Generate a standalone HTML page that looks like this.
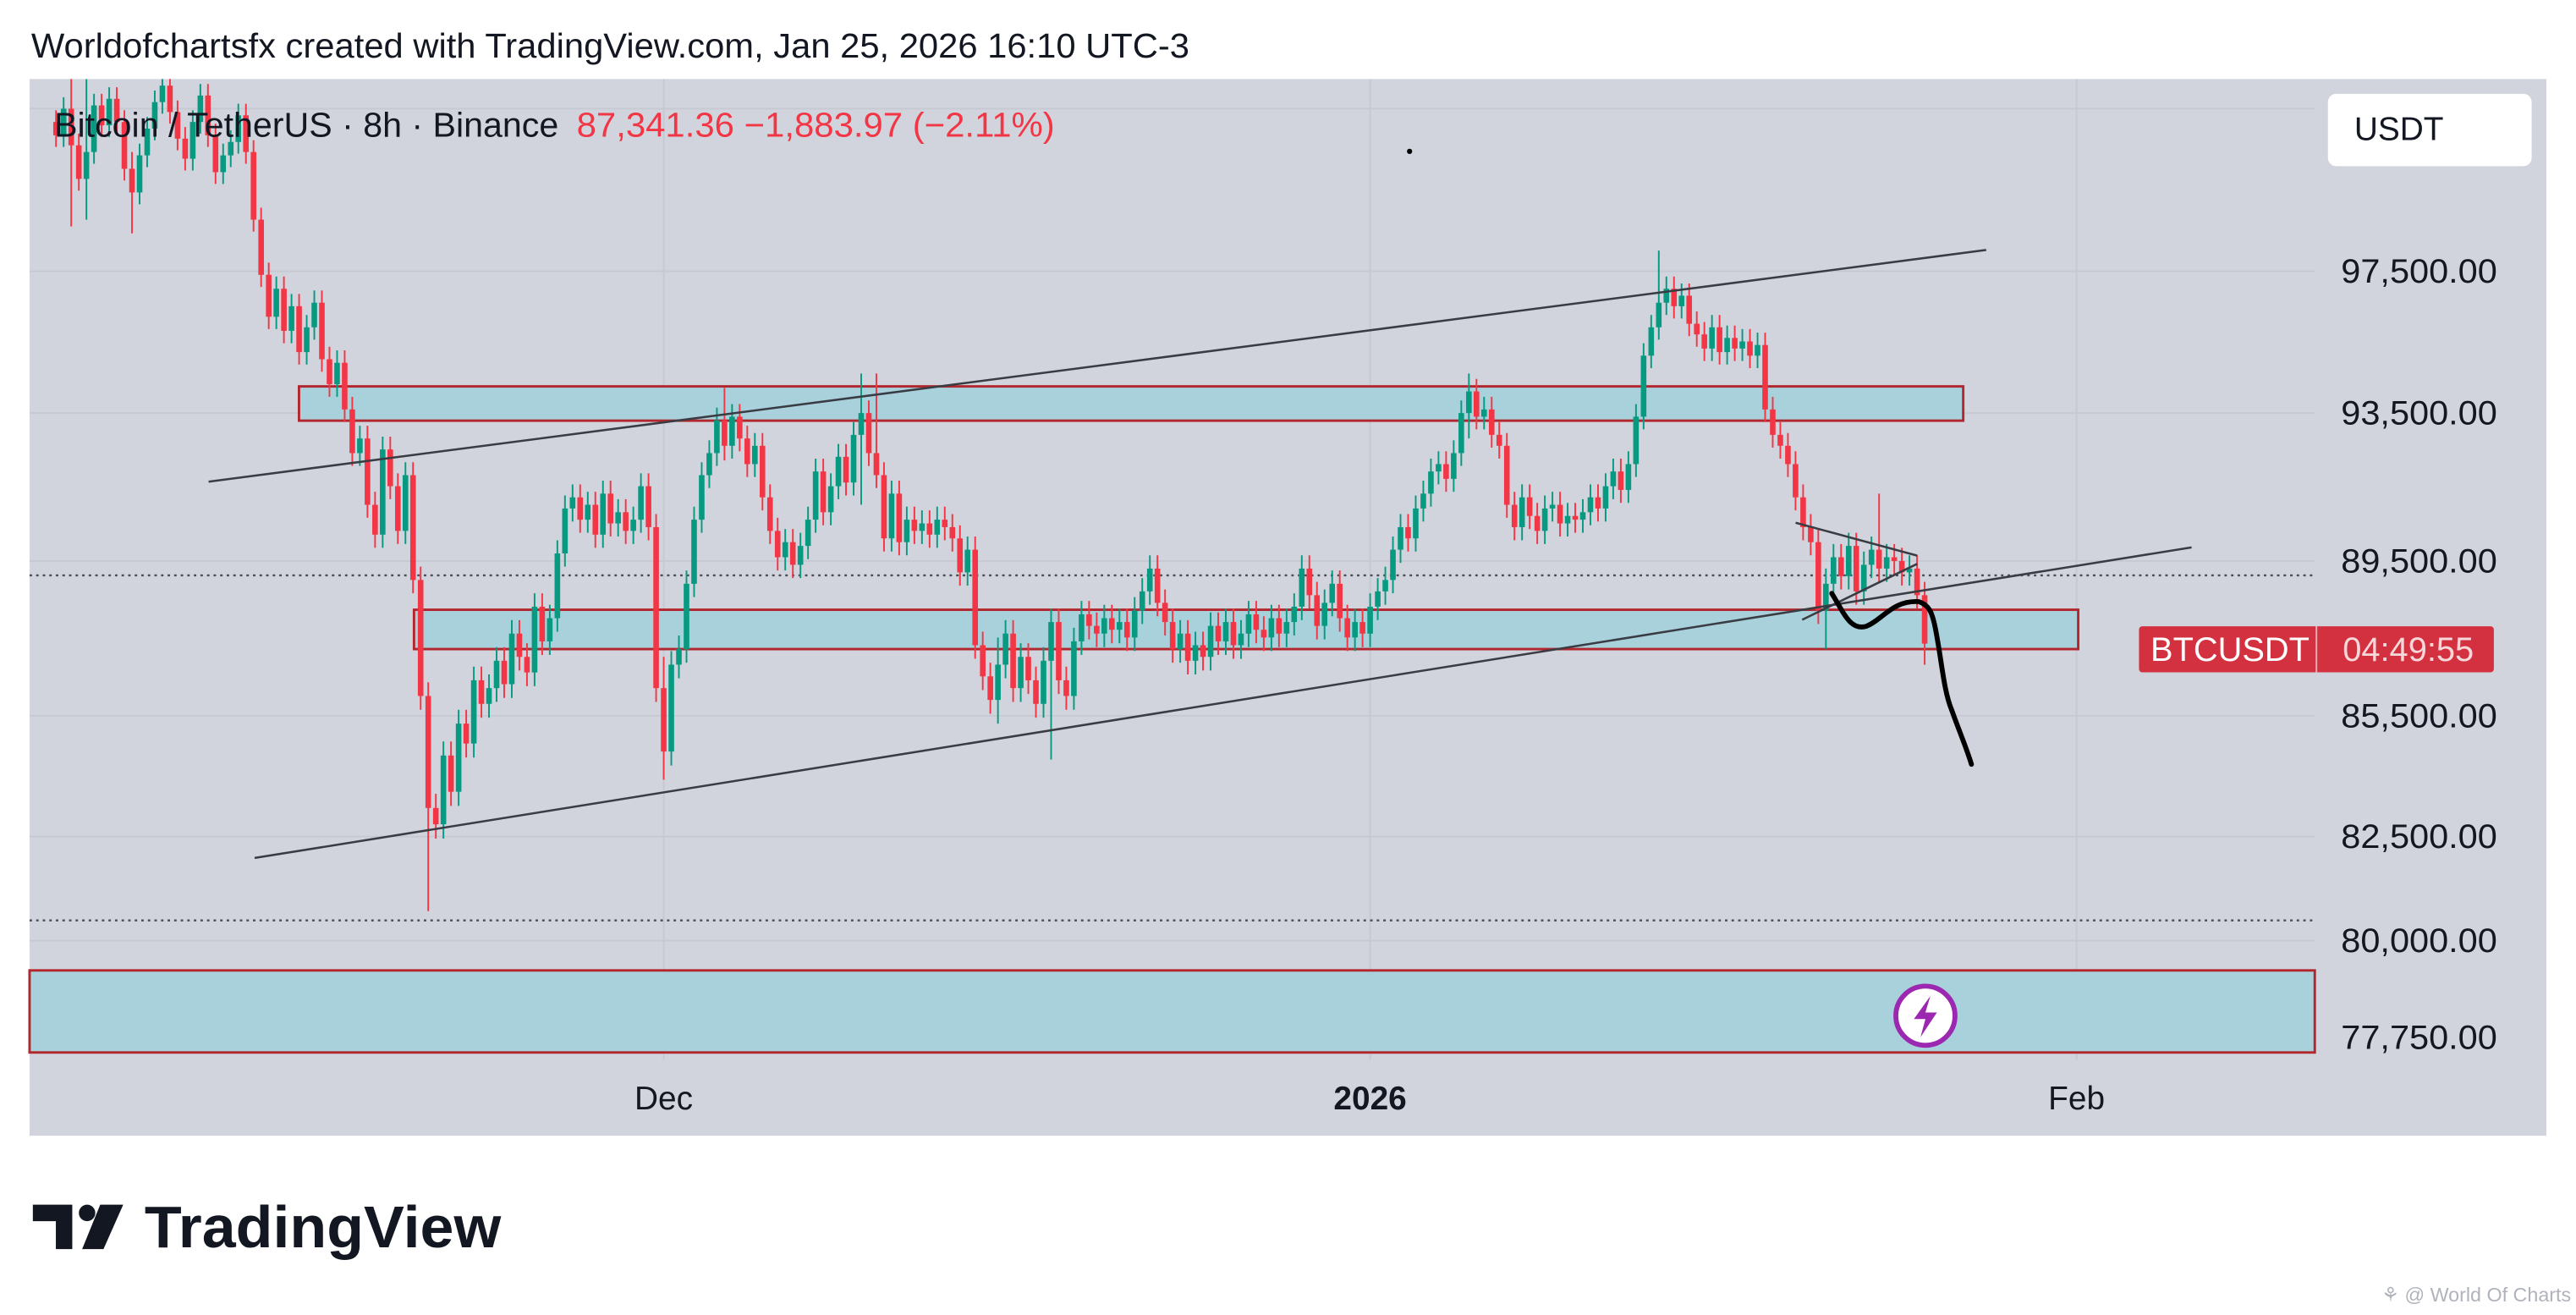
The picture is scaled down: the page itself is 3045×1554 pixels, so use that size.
<!DOCTYPE html>
<html><head><meta charset="utf-8"><style>
html,body{margin:0;padding:0;background:#fff;}
svg{display:block;font-family:"Liberation Sans",sans-serif;}
</style></head><body>
<svg id="chart" width="3045" height="1554" viewBox="0 0 1568 800" xmlns="http://www.w3.org/2000/svg">
<rect x="0" y="0" width="1568" height="800" fill="#ffffff"/>
<text x="19" y="35" font-size="21" fill="#131722" textLength="705" lengthAdjust="spacingAndGlyphs">Worldofchartsfx created with TradingView.com, Jan 25, 2026 16:10 UTC-3</text>
<rect x="18" y="48" width="1532" height="643" fill="#d1d4dc"/>
<defs><clipPath id="plotclip"><rect x="18" y="48" width="1391" height="597"/></clipPath></defs>
<g id="grid"></g>
<g id="zones"></g>
<g id="candles" clip-path="url(#plotclip)"></g>
<g id="drawings"></g>
<g id="axes"></g>
<text x="33" y="83" font-size="21" fill="#131722" textLength="307" lengthAdjust="spacingAndGlyphs">Bitcoin / TetherUS · 8h · Binance</text>
<text x="351" y="83" font-size="21" fill="#f23645" textLength="291" lengthAdjust="spacingAndGlyphs">87,341.36  −1,883.97 (−2.11%)</text>
<rect x="1417" y="57" width="124" height="44" rx="5" fill="#ffffff"/>
<text x="1433" y="85" font-size="20" fill="#131722">USDT</text>
<g>
<rect x="1302" y="381" width="216" height="28" rx="2" fill="#d3313f"/>
<line x1="1410" y1="381" x2="1410" y2="409" stroke="#ffffff" stroke-opacity="0.6"/>
<text x="1309" y="402" font-size="20.5" fill="#fff">BTCUSDT</text>
<text x="1426" y="402" font-size="20.5" fill="#f6d7da">04:49:55</text>
</g>
<g>
<circle cx="1172" cy="618" r="18" fill="#fff" stroke="#9c27b0" stroke-width="3"/>
<path d="M1175 606 L1165 620 L1172 620 L1169 631 L1179 616 L1172 616 Z" fill="#9c27b0"/>
</g>
<g>
<path d="M20 733 H44 V760 H34 V743 H20 Z" fill="#131722"/>
<circle cx="53" cy="738" r="5" fill="#131722"/>
<path d="M61 733 H75 L63 760 H50 Z" fill="#131722"/>
<text x="88" y="759" font-size="36" font-weight="bold" fill="#131722" textLength="217" lengthAdjust="spacingAndGlyphs">TradingView</text>
</g>
<text x="1565" y="792" font-size="12" fill="#b0b3bb" text-anchor="end">⚘ @ World Of Charts</text>
</svg>
<script>
const tickPrices=[97500,93500,89500,85500,82500,80000,77750];
const tickLabels=["97,500.00","93,500.00","89,500.00","85,500.00","82,500.00","80,000.00","77,750.00"];
const timeLabels=["Dec","2026","Feb"];
const timeIdx=[80,173,266];
const closes=[101.5,102.3,101.2,100.2,101.0,102.4,101.8,102.6,101.9,100.5,99.8,100.9,101.7,102.5,103.0,102.2,101.4,100.8,101.9,102.7,101.5,100.4,100.9,101.3,102.1,101.0,99.0,
97.4,96.2,97.0,95.8,96.5,95.2,95.9,96.6,95.0,94.3,94.9,93.6,
92.4,92.8,91.0,90.2,92.5,91.5,90.3,91.8,
89.0,86.0,83.2,82.8,
84.5,83.6,85.3,84.8,86.4,85.8,86.2,
86.9,86.3,87.6,87.0,86.6,88.3,87.4,88.0,89.7,90.9,
91.2,90.6,91.0,90.2,91.3,90.5,90.8,90.3,90.6,91.5,90.4,
86.2,84.6,86.8,
87.2,88.9,90.6,91.8,92.4,93.3,92.6,
93.4,92.8,92.1,92.6,91.2,90.3,
89.6,90.0,89.4,89.9,90.6,
91.9,90.8,91.5,92.3,91.6,92.9,93.5,92.4,
91.8,90.1,91.3,90.0,90.6,90.3,
90.5,90.2,90.6,90.4,90.1,89.2,89.8,
87.3,86.5,85.9,86.8,
87.6,86.2,87.0,86.4,85.8,86.9,87.9,86.4,86.0,
87.4,88.1,87.8,87.6,88.0,87.7,87.9,87.5,88.2,
88.7,89.3,88.4,87.9,
87.2,87.6,86.9,87.3,87.0,87.8,87.4,87.9,87.3,87.6,88.1,87.7,87.5,88.0,87.6,87.9,88.3,
89.3,88.6,87.8,88.4,88.9,88.0,87.5,87.9,87.6,88.3,
88.7,89.0,89.8,90.4,90.1,90.9,91.3,
91.9,92.1,91.7,92.4,93.5,94.1,93.4,
93.6,92.9,92.6,
91.0,90.4,91.2,90.7,90.3,90.9,
91.0,90.5,90.7,90.6,90.8,91.2,90.9,91.5,91.9,91.4,92.1,
93.4,95.1,95.9,
96.6,97.0,96.5,96.8,
96.0,95.7,95.3,95.9,
95.2,95.6,95.3,95.5,95.1,95.4,
93.6,92.9,92.6,92.1,
91.2,90.4,90.0,
88.2,88.9,
89.6,89.1,89.9,88.7,89.4,89.8,89.3,89.6,89.5,89.2,89.3,
88.6,87.34];
const wickIdx=[2,4,10,49,80,88,106,108,124,131,186,211,233,240,246];
const wickHigh=[103.5,103.2,101.0,84.0,87.0,94.2,94.6,94.6,87.5,87.3,94.6,98.1,89.3,91.3,88.8];
const wickLow=[98.8,99.0,98.6,80.7,83.9,92.2,91.0,92.0,85.3,84.4,92.8,96.0,87.2,89.0,86.8];
const defaultWick=0.35;

const NS="http://www.w3.org/2000/svg";
function yScale(p){return 165+2059*Math.log(97500/p);}
function xScale(i){return 404+(i-80)*(430/93);}
function mk(tag,attrs,parent){const e=document.createElementNS(NS,tag);for(const k in attrs)e.setAttribute(k,attrs[k]);parent.appendChild(e);return e;}
const grid=document.getElementById('grid'),axes=document.getElementById('axes');
mk('line',{x1:18,x2:1409,y1:66,y2:66,stroke:'#c6c9d1','stroke-width':1},grid);
tickPrices.forEach((p,k)=>{
  const y=yScale(p);
  const l=mk('line',{x1:18,x2:1409,y1:y,y2:y,stroke:'#c6c9d1','stroke-width':1},grid);
  
  
  const t=mk('text',{x:1520,y:y+7,'font-size':20.5,fill:'#131722','text-anchor':'end',textLength:95,lengthAdjust:'spacingAndGlyphs'},axes);
  t.textContent=tickLabels[k];
  
  
});
timeIdx.forEach((ti,k)=>{
  const x=xScale(ti);
  const l=mk('line',{x1:x,x2:x,y1:48,y2:645,stroke:'#c6c9d1','stroke-width':1},grid);
  
  
  const t=mk('text',{x:x,y:675,'font-size':20,fill:'#131722','text-anchor':'middle','font-weight':k==1?'bold':'normal'},axes);
  t.textContent=timeLabels[k];
  
  
});
const zones=document.getElementById('zones');
function zone(x1,x2,p1,p2,name){
  const r=mk('rect',{x:x1,y:yScale(p1),width:x2-x1,height:yScale(p2)-yScale(p1),fill:'#a8d1db',stroke:'#b2272d','stroke-width':1.5},zones);
  
  
}
zone(182,1195,94240,93290,'resistance-zone');
zone(252,1265,88220,87200,'support-zone');
zone(18,1409,79300,77400,'lower-zone');
const dl=mk('line',{x1:18,x2:1409,y1:350,y2:350,stroke:'#4a4d57','stroke-dasharray':'1.5,2.5','stroke-width':1.2},zones);


const dl2=mk('line',{x1:18,x2:1409,y1:560,y2:560,stroke:'#4a4d57','stroke-dasharray':'1.5,2.5','stroke-width':1.2},zones);


const cg=document.getElementById('candles');
for(let i=0;i<closes.length;i++){
  const c=closes[i],o=i>0?closes[i-1]:closes[0]+0.4;
  let hi=Math.max(o,c)+defaultWick,lo=Math.min(o,c)-defaultWick;
  const w=wickIdx.indexOf(i);
  if(w>=0){hi=Math.max(hi,wickHigh[w]);lo=Math.min(lo,wickLow[w]);}
  const col=c>=o?'#089981':'#f23645';
  const x=xScale(i);
  const g=mk('g',{},cg);
  
  
  mk('line',{x1:x,x2:x,y1:yScale(hi*1000),y2:yScale(lo*1000),stroke:col,'stroke-width':1},g);
  const y1=yScale(Math.max(o,c)*1000),y2=yScale(Math.min(o,c)*1000);
  mk('rect',{x:x-1.7,y:y1,width:3.4,height:Math.max(1,y2-y1),fill:col},g);
}
const dg=document.getElementById('drawings');
function ln(x1,y1,x2,y2,name,w){
  const l=mk('line',{x1,y1,x2,y2,stroke:'#3a3c44','stroke-width':w||1.3},dg);
  
  
}
ln(127,293,1209,152,'upper-channel-line');
ln(155,522,1334,333,'lower-channel-line');
ln(1093,318,1167,338,'triangle-upper-line');
ln(1097,377,1167,343,'triangle-lower-line');
const cur=mk('path',{d:'M1115 361 C1122 372,1126 384,1136 381 C1146 377,1152 365,1168 366 C1174 368,1176 372,1178 382 C1182 402,1183 420,1188 432 C1193 446,1197 455,1200 465',fill:'none',stroke:'#000','stroke-width':3,'stroke-linecap':'round'},dg);


const dot=mk('circle',{cx:858,cy:92,r:1.6,fill:'#000'},dg);


</script>
</body></html>
